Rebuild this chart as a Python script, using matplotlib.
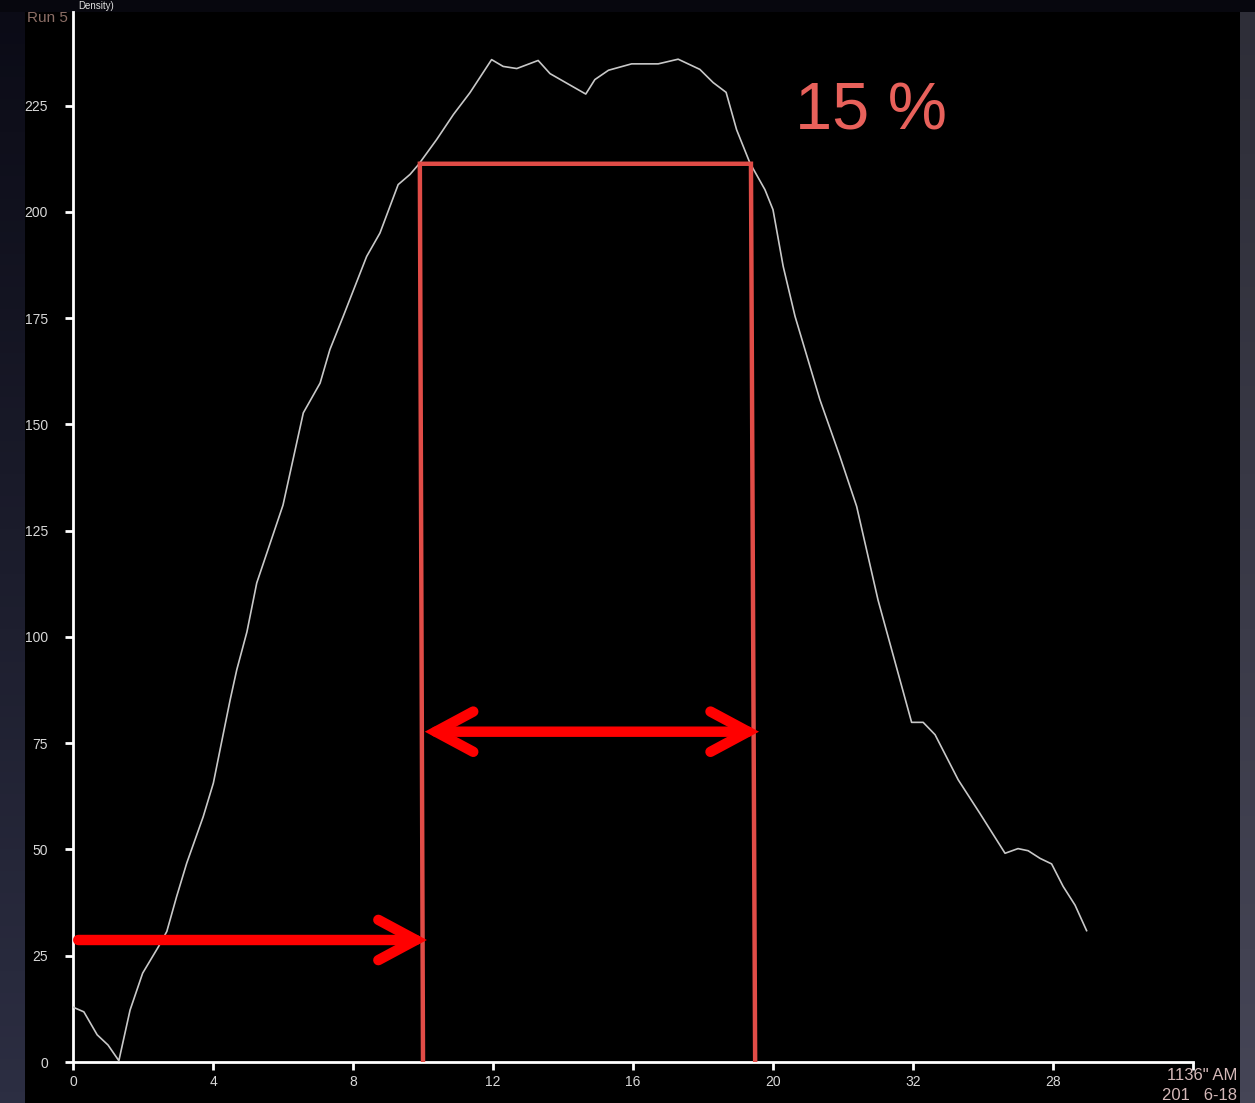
import matplotlib
matplotlib.use("Agg")
import matplotlib.pyplot as plt
import numpy as np

# curve
xs = [0, 0.31, 0.69, 1.0, 1.31, 1.63, 1.99, 2.44, 2.68, 2.96, 3.25, 3.72, 4.01, 4.2,
      4.49, 4.68, 4.97, 5.25, 6.0, 6.58, 7.06, 7.34, 7.72, 8.39, 8.77, 9.29, 9.63,
      9.87, 10.39, 10.87, 11.34, 11.96, 12.29, 12.68, 13.29, 13.63, 14.65, 14.91,
      15.3, 15.96, 16.72, 17.29, 17.91, 18.29, 18.66, 18.96, 19.34, 19.77, 20.0,
      20.29, 20.63, 21.34, 21.91, 22.39, 23.0, 23.34, 23.96, 24.29, 24.63, 25.29,
      25.91, 26.63, 27.0, 27.29, 27.63, 27.96, 28.29, 28.63, 28.96]
ys = [12.9, 11.8, 6.4, 4.0, 0.3, 12.2, 20.9, 27.1, 30.7, 38.9, 46.8, 57.7, 65.6, 73.4,
      85.2, 92.3, 101.2, 112.7, 131.0, 152.7, 159.7, 167.6, 175.4, 189.5, 195.0, 206.4,
      208.8, 211.1, 217.0, 222.9, 228.0, 235.8, 234.2, 233.7, 235.6, 232.5, 227.7,
      231.1, 233.3, 234.8, 234.8, 235.9, 233.5, 230.4, 228.1, 219.3, 211.5, 205.2,
      200.5, 187.2, 175.4, 155.8, 142.5, 130.7, 108.7, 98.5, 79.9, 79.9, 77.0, 66.4,
      58.5, 49.1, 50.2, 49.7, 47.9, 46.6, 41.3, 36.9, 30.9]

x_ticks = [0, 4, 8, 12, 16, 20, 24, 28, 32]
x_labels = ['0', '4', '8', '12', '16', '20', '32', '28', '']
y_ticks = [0, 25, 50, 75, 100, 125, 150, 175, 200, 225]

# red box (x left, x right, top)
box_left = [9.91, 10.0]
box_right = [19.37, 19.49]
box_top = 211.3

arrow_y = 28.7
arrow_x = [0.15, 10.11]
double_y = 77.7
double_x = [10.05, 19.6]
percent_text = '15 %'

W, H = 1255, 1103
fig = plt.figure(figsize=(W / 100, H / 100), dpi=100, facecolor='black')

# screenshot frame: left bluish strip, right grey strip, dark top
left = fig.add_axes([0, 0, 25 / W, 1])
left.imshow(np.linspace(0, 1, 100).reshape(-1, 1), aspect='auto', cmap=matplotlib.colors.LinearSegmentedColormap.from_list('l', ['#0b0b16', '#2c2e42']), origin='upper')
left.axis('off')
right = fig.add_axes([1240 / W, 0, 15 / W, 1])
right.imshow(np.linspace(0, 1, 100).reshape(-1, 1), aspect='auto', cmap=matplotlib.colors.LinearSegmentedColormap.from_list('r', ['#2e2e38', '#454556']), origin='upper')
right.axis('off')
top = fig.add_axes([0, 1 - 12 / H, 1, 12 / H])
top.set_facecolor('#07070e')
top.set_xticks([]); top.set_yticks([])
for s in top.spines.values():
    s.set_visible(False)

ax = fig.add_axes([73 / W, 41 / H, 1120 / W, 1050 / H])
ax.set_facecolor('black')
ax.plot(xs, ys, color='#c8c8c8', lw=1.2, zorder=3)

ax.set_xlim(0, 32)
ax.set_ylim(0, 247)
for s in ['top', 'right']:
    ax.spines[s].set_visible(False)
for s in ['left', 'bottom']:
    ax.spines[s].set_color('white')
    ax.spines[s].set_linewidth(2)
ax.set_xticks(x_ticks, x_labels)
ax.set_yticks(y_ticks)
ax.tick_params(axis='both', colors='white', width=2, length=6, direction='out',
               labelcolor='#d8d8d8', labelsize=10)
ax.tick_params(axis='y', pad=12)
ax.tick_params(axis='x', pad=3)
for lab in ax.get_xticklabels() + ax.get_yticklabels():
    lab.set_fontfamily('Liberation Sans')

box_c = '#e14c47'
ax.plot([box_left[1], box_left[0], box_right[0], box_right[1]],
        [0, box_top, box_top, 0], color=box_c, lw=3.2, zorder=4,
        solid_joinstyle='miter')

red = '#ff0000'
head = '{}, head_length=2.7, head_width=1.45'
ax.annotate('', xy=(arrow_x[1], arrow_y), xytext=(arrow_x[0], arrow_y),
            arrowprops=dict(arrowstyle=head.format('->'),
                            color=red, lw=7.5, shrinkA=0, shrinkB=0,
                            capstyle='round', joinstyle='miter'), zorder=5)
ax.annotate('', xy=(double_x[1], double_y), xytext=(double_x[0], double_y),
            arrowprops=dict(arrowstyle=head.format('<->'),
                            color=red, lw=7.5, shrinkA=0, shrinkB=0,
                            capstyle='round', joinstyle='miter'), zorder=5)

ax.text(20.63, 219.3, percent_text, color='#e8615b', fontsize=48,
        family='Liberation Sans', ha='left', va='baseline')

# screenshot overlay text
fig.text(27 / W, 1 - 18 / H, 'Run 5', color='#8c6e66', fontsize=11,
         family='Liberation Sans', ha='left', va='center')
fig.text(78 / W, 1 - 6 / H, 'Density)', color='#e0e0e0', fontsize=7,
         family='Liberation Sans', ha='left', va='center')
fig.text(1237 / W, 1 - 1075 / H, '1136" AM', color='#d4b8b8', fontsize=12,
         family='Liberation Sans', ha='right', va='center')
fig.text(1237 / W, 1 - 1095 / H, '201   6-18', color='#d4b8b8', fontsize=12,
         family='Liberation Sans', ha='right', va='center')

fig.savefig('out.png', dpi=100, facecolor='black')
